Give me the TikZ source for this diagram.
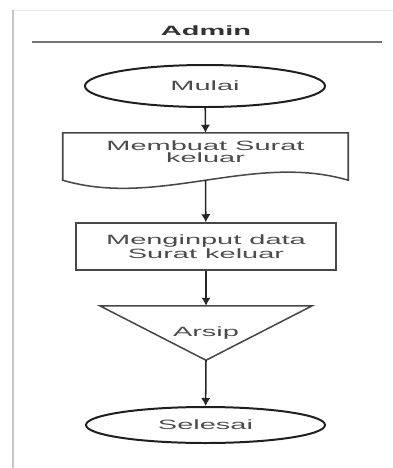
\documentclass[tikz,border=0pt]{standalone}
\usepackage{fontspec}
\setmainfont{Liberation Sans}[FakeStretch=2.15]
\usetikzlibrary{shapes.geometric,arrows.meta}
\begin{document}
\begin{tikzpicture}[x=0.03cm,y=-0.03cm,
  every node/.style={font=\fontsize{11.5}{10.5}\selectfont,text=black!70,align=center},
  garis/.style={draw=black!72,line width=1.3pt},
  terminal/.style={draw=black!88,line width=1.7pt,ellipse,inner sep=0pt},
  panah/.style={-{Latex[length=2.4mm,width=2.8mm]},line width=1.3pt,black!85}]
\useasboundingbox (0,0) rectangle (393,468);
% lane
\draw[black!8,line width=0.8pt] (13,10) -- (393,10);
\draw[black!22,line width=1.6pt] (13,10) -- (13,468);
\draw[black!55,line width=1.6pt] (32,42) -- (382,42);
\node[font=\fontsize{11.5}{13}\selectfont\bfseries,text=black!80] (judul) at (206,31) {Admin};
% steps
\node[terminal,minimum width=7.2cm,minimum height=1.26cm] (mulai) at (205,86) {Mulai};
\node[minimum width=8.55cm,minimum height=1.14cm] (buat) at (205.5,152) {Membuat Surat\\keluar};
\draw[garis] ([yshift=-0.27cm]buat.south west) -- (buat.north west) -- (buat.north east)
  -- ([yshift=-0.27cm]buat.south east) .. controls +(-2.85cm,0.84cm) and +(2.85cm,-0.84cm)
  .. ([yshift=-0.27cm]buat.south west) -- cycle;
\node[garis,minimum width=7.8cm,minimum height=1.41cm] (input) at (206,246.5) {Menginput data\\Surat keluar};
\node[minimum width=6.36cm,minimum height=1.62cm] (arsip) at (206,333) {Arsip};
\draw[garis] (arsip.north west) -- (arsip.north east) -- (arsip.south) -- cycle;
\node[terminal,minimum width=7.17cm,minimum height=1.08cm] (selesai) at (205.5,425) {Selesai};
% flow
\draw[panah] (mulai) -- (buat.north);
\draw[panah] ([yshift=-0.27cm]buat.south) -- (input);
\draw[panah] (input) -- (arsip.north);
\draw[panah] (arsip.south) -- (selesai);
\end{tikzpicture}
\end{document}
